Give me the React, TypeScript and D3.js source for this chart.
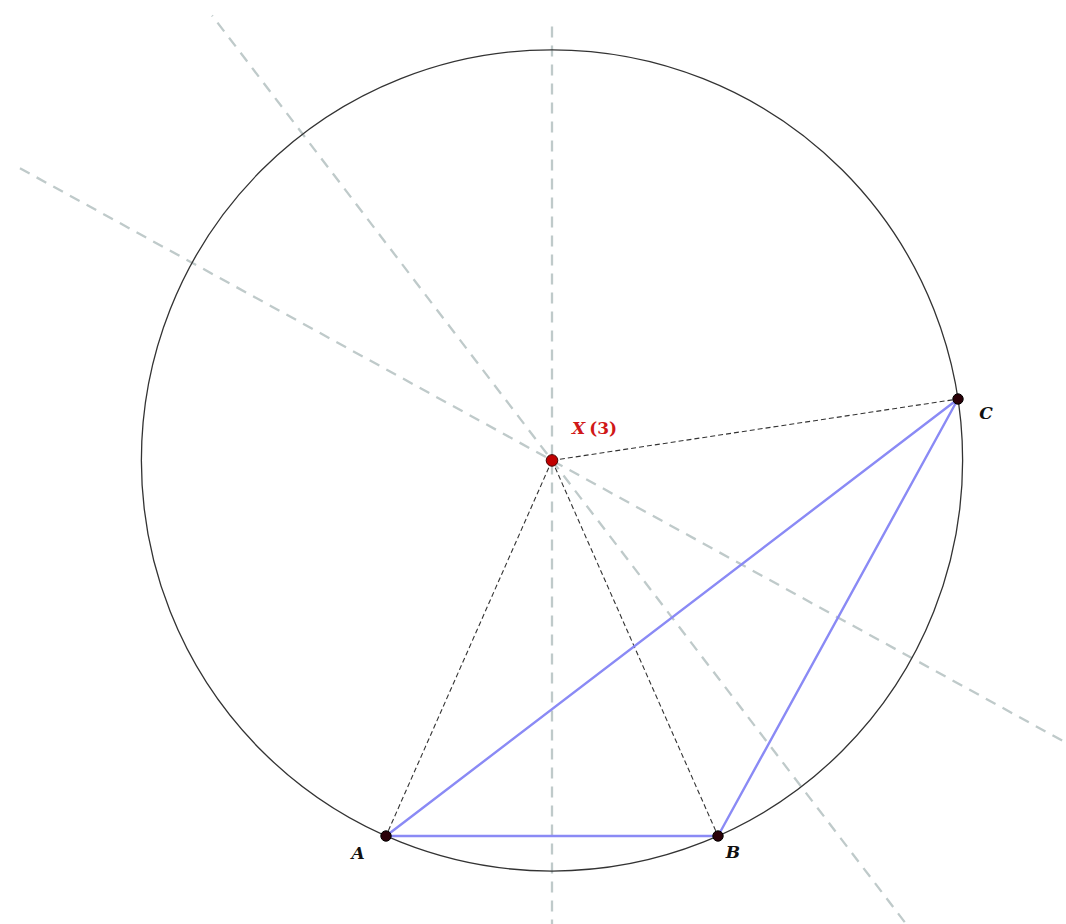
import React from "react";
import * as d3 from "d3";

// Triangle vertices (math units, y up)
const vertexNames = ["A", "B", "C"];
const vertexX = [-1.66, 1.66, 4.06];
const vertexY = [-3.76, -3.76, 0.61];
// label offsets in units
const labelDX = [-0.28, 0.15, 0.28];
const labelDY = [-0.18, -0.17, -0.15];
// perpendicular bisectors: pairs of vertex indices and parameter extents (units from circumcenter)
const bisectorPairs: [number, number][] = [[0, 1], [0, 2], [1, 2]];
const bisectorT0 = [-4.7, -6.0, -6.2];
const bisectorT1 = [4.4, 5.6, 6.07];
const centerLabel = ["X", "(3)"];

const W = 1066;
const H = 924;

export default function App() {
  const x = d3.scaleLinear().domain([0, 1]).range([552, 652]);
  const y = d3.scaleLinear().domain([0, 1]).range([460, 360]);

  const P = vertexX.map((vx, i) => [vx, vertexY[i]]);
  // circumcenter
  const [ax, ay] = P[0], [bx, by] = P[1], [cx, cy] = P[2];
  const d = 2 * (ax * (by - cy) + bx * (cy - ay) + cx * (ay - by));
  const ux = ((ax * ax + ay * ay) * (by - cy) + (bx * bx + by * by) * (cy - ay) + (cx * cx + cy * cy) * (ay - by)) / d;
  const uy = ((ax * ax + ay * ay) * (cx - bx) + (bx * bx + by * by) * (ax - cx) + (cx * cx + cy * cy) * (bx - ax)) / d;
  const R = Math.hypot(ax - ux, ay - uy);
  const Rpx = x(R) - x(0);

  const line = d3.line<number[]>().x((p) => x(p[0])).y((p) => y(p[1]));

  const bisectors = bisectorPairs.map(([i, j], k) => {
    const dx = P[j][0] - P[i][0];
    const dy = P[j][1] - P[i][1];
    const len = Math.hypot(dx, dy);
    let px = -dy / len, py = dx / len;
    if (py < 0 || (py === 0 && px < 0)) { px = -px; py = -py; }
    return [
      [ux + px * bisectorT0[k], uy + py * bisectorT0[k]],
      [ux + px * bisectorT1[k], uy + py * bisectorT1[k]],
    ];
  });

  const tri = [P[0], P[1], P[2], P[0]];

  return (
    <svg width={W} height={H} style={{ position: "absolute", left: 0, top: 0, background: "#fff" }}>
      <g>
        {bisectors.map((b, k) => (
          <path key={k} d={line(b) || ""} fill="none" stroke="#bfcaca" strokeWidth={2.3} strokeDasharray="11 8" />
        ))}
      </g>
      <circle cx={x(ux)} cy={y(uy)} r={Rpx} fill="none" stroke="#333" strokeWidth={1.3} />
      <g>
        {P.map((p, i) => (
          <path key={i} d={line([[ux, uy], p]) || ""} fill="none" stroke="#333" strokeWidth={1.1} strokeDasharray="5 3" />
        ))}
      </g>
      <path d={line(tri) || ""} fill="none" stroke="#8a8af5" strokeWidth={2.4} strokeLinejoin="round" />
      {P.map((p, i) => (
        <circle key={i} cx={x(p[0])} cy={y(p[1])} r={5.2} fill="#2a0008" stroke="#000" strokeWidth={1} />
      ))}
      <circle cx={x(ux)} cy={y(uy)} r={5.8} fill="#c00000" stroke="#400" strokeWidth={1} />
      {P.map((p, i) => (
        <text
          key={i}
          x={x(p[0] + labelDX[i])}
          y={y(p[1] + labelDY[i])}
          textAnchor="middle"
          dominantBaseline="middle"
          fontFamily="'DejaVu Serif', serif"
          fontStyle="italic"
          fontWeight="bold"
          fontSize={17}
          fill="#111"
        >
          {vertexNames[i]}
        </text>
      ))}
      <text
        x={x(ux + 0.2)}
        y={y(uy + 0.31)}
        dominantBaseline="middle"
        fontFamily="'DejaVu Serif', serif"
        fontWeight="bold"
        fontSize={17}
        fill="#d01818"
      >
        <tspan fontStyle="italic">{centerLabel[0]}</tspan>
        <tspan dx={4}>{centerLabel[1]}</tspan>
      </text>
    </svg>
  );
}
